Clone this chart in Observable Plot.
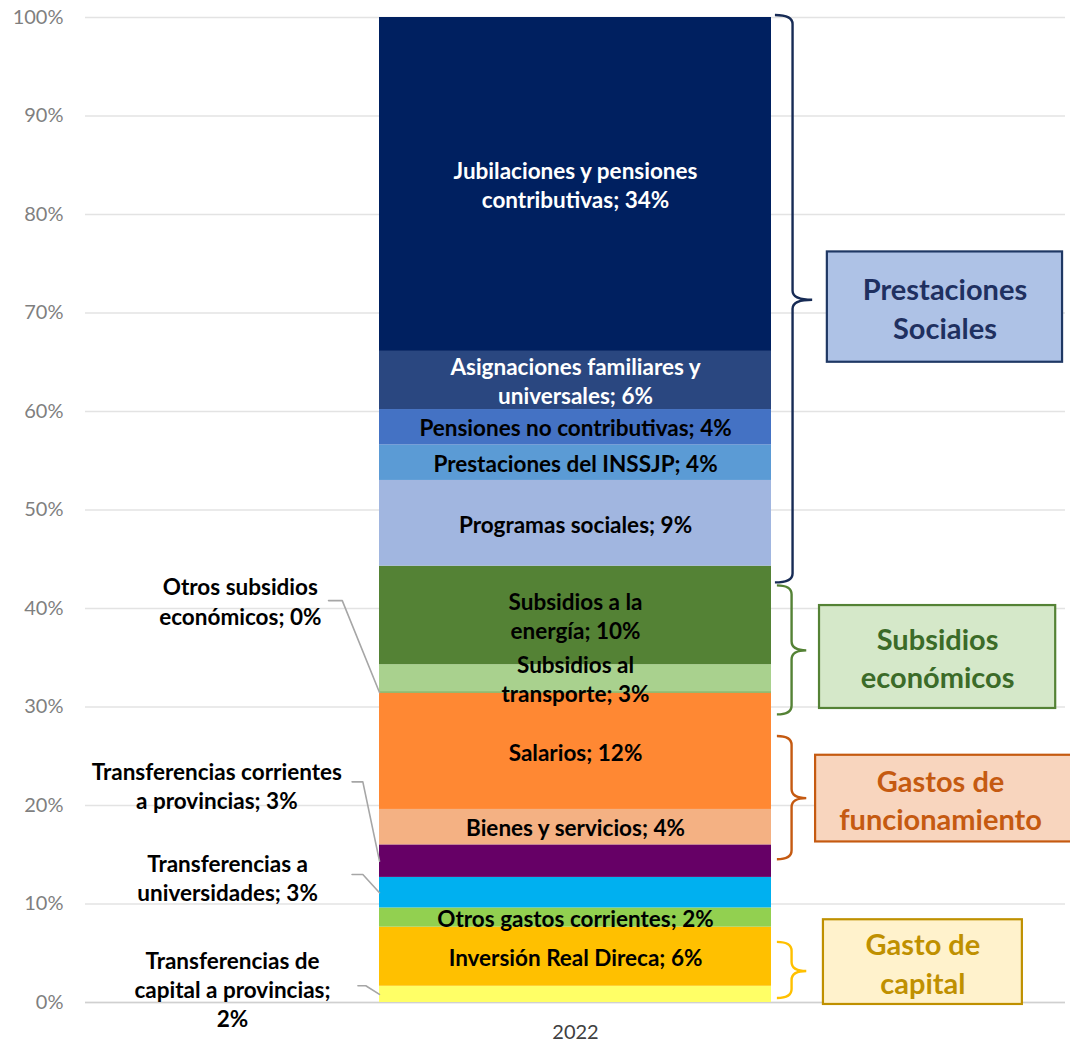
<!DOCTYPE html>
<html>
<head>
<meta charset="utf-8">
<script src="https://cdn.jsdelivr.net/npm/d3@7"></script>
<script src="https://cdn.jsdelivr.net/npm/@observablehq/plot@0.6"></script>
<style>
  html, body { margin: 0; padding: 0; background: #fff; overflow: hidden; }
  #chart svg { display: block; }
</style>
</head>
<body>
<div id="chart"></div>
<script>
// ---------- DATA (stack order: bottom to top) ----------
const year = "2022";
const categories = [
  "Transferencias de capital a provincias",
  "Inversión Real Direca",
  "Otros gastos corrientes",
  "Transferencias a universidades",
  "Transferencias corrientes a provincias",
  "Bienes y servicios",
  "Salarios",
  "Otros subsidios económicos",
  "Subsidios al transporte",
  "Subsidios a la energía",
  "Programas sociales",
  "Prestaciones del INSSJP",
  "Pensiones no contributivas",
  "Asignaciones familiares y universales",
  "Jubilaciones y pensiones contributivas"
];
const values = [1.65, 6.0, 1.95, 3.1, 3.3, 3.6, 11.8, 0.15, 2.75, 10.0, 8.7, 3.6, 3.6, 5.9, 33.9];
const valueLabels = ["2%", "6%", "2%", "3%", "3%", "4%", "12%", "0%", "3%", "10%", "9%", "4%", "4%", "6%", "34%"];
const labelTexts = [
  "Transferencias de\ncapital a provincias;\n2%",
  "Inversión Real Direca; 6%",
  "Otros gastos corrientes; 2%",
  "Transferencias a\nuniversidades; 3%",
  "Transferencias corrientes\na provincias; 3%",
  "Bienes y servicios; 4%",
  "Salarios; 12%",
  "Otros subsidios\neconómicos; 0%",
  "Subsidios al\ntransporte; 3%",
  "Subsidios a la\nenergía; 10%",
  "Programas sociales; 9%",
  "Prestaciones del INSSJP; 4%",
  "Pensiones no contributivas; 4%",
  "Asignaciones familiares y\nuniversales; 6%",
  "Jubilaciones y pensiones\ncontributivas; 34%"
];
const yTicks = [0, 10, 20, 30, 40, 50, 60, 70, 80, 90, 100];

// ---------- STYLES ----------
const segColors = ["#FFFF66", "#FFC000", "#92D050", "#00B0F0", "#660066", "#F4B183", "#FF8833",
  "#6FA84A", "#A9D18E", "#548235", "#A1B6E0", "#5B9BD5", "#4472C4", "#2A4780", "#002060"];
const segTextColors = ["#000", "#000", "#000", "#000", "#000", "#000", "#000", "#000", "#000", "#000",
  "#000", "#000", "#000", "#fff", "#fff"];
const outside = [true, false, false, true, true, false, false, true, false, false, false, false, false, false, false];

// ---------- LAYOUT (x in 0..1 across the plot frame, y in %) ----------
const barX1 = 0.3, barX2 = 0.7, barMid = 0.5;
const calloutCats = ["Otros subsidios económicos", "Transferencias corrientes a provincias",
  "Transferencias a universidades", "Transferencias de capital a provincias"];
const calloutLabelX = [0.158, 0.134, 0.145, 0.150];
const calloutLabelY = [40.8, 22.1, 12.7, 1.42];
const calloutLineX = [[0.248, 0.262], [0.272, 0.283], [0.272, 0.283], [0.278, 0.286]];
const calloutLineY = [40.8, 22.4, 13.0, 1.7];

const groupNames = ["Prestaciones\nSociales", "Subsidios\neconómicos", "Gastos de\nfuncionamiento", "Gasto de\ncapital"];
const braceTop = [100.2, 42.3, 27.0, 6.1];
const braceBottom = [42.6, 29.2, 14.5, 0.4];
const braceTip = [71.3, 35.7, 20.7, 3.15];
const braceX = [[0.704, 0.722, 0.742], [0.706, 0.721, 0.736], [0.706, 0.721, 0.736], [0.706, 0.721, 0.736]];
const braceColors = ["#172B55", "#548235", "#C55A11", "#FFC000"];
const boxX = [[0.757, 0.997], [0.749, 0.990], [0.745, 1.010], [0.753, 0.956]];
const boxY = [[65.0, 76.2], [29.85, 40.3], [16.3, 25.1], [-0.2, 8.4]];
const boxFill = ["#AEC2E6", "#D5E8C9", "#F8D5BE", "#FFF2CC"];
const boxStroke = ["#1F3864", "#548235", "#C55A11", "#BF9000"];
const boxText = ["#1F3060", "#3B6B28", "#C55A11", "#BF9000"];
const boxTextY = [70.6, 35.1, 20.7, 4.1];

// ---------- BUILD ----------
const rows = categories.map((c, i) => ({
  year, category: c, value: values[i],
  color: segColors[i], textColor: segTextColors[i],
  inLabel: outside[i] ? "" : labelTexts[i]
}));
const cum = d3.cumsum(values);
const midOf = c => { const i = categories.indexOf(c); return cum[i] - values[i] / 2; };

const leaders = [];
calloutCats.forEach((c, k) => {
  leaders.push({k, x: calloutLineX[k][0], y: calloutLineY[k]});
  leaders.push({k, x: calloutLineX[k][1], y: calloutLineY[k]});
  leaders.push({k, x: barX1, y: midOf(c)});
});
const callouts = calloutCats.map((c, k) => ({
  x: calloutLabelX[k], y: calloutLabelY[k], text: labelTexts[categories.indexOf(c)]
}));
const groups = groupNames.map((g, k) => ({
  name: g, x1: boxX[k][0], x2: boxX[k][1], y1: boxY[k][0], y2: boxY[k][1],
  fill: boxFill[k], stroke: boxStroke[k], textColor: boxText[k],
  tx: (boxX[k][0] + Math.min(boxX[k][1], 1.0)) / 2, ty: boxTextY[k]
}));

const FONT = "Lato, 'Open Sans', sans-serif";
const LABEL_SIZE = 22.5;

function braces(index, scales) {
  const xs = scales.x, ys = scales.y;
  const g = d3.create("svg:g");
  groupNames.forEach((_, k) => {
    const xl = xs(braceX[k][0]), xv = xs(braceX[k][1]), xt = xs(braceX[k][2]);
    const y0 = ys(braceTop[k]), y1 = ys(braceBottom[k]), ym = ys(braceTip[k]);
    const r = 9;
    const p = d3.path();
    p.moveTo(xl, y0);
    p.quadraticCurveTo(xv, y0, xv, y0 + r);
    p.lineTo(xv, ym - r);
    p.quadraticCurveTo(xv, ym, xt, ym);
    p.quadraticCurveTo(xv, ym, xv, ym + r);
    p.lineTo(xv, y1 - r);
    p.quadraticCurveTo(xv, y1, xl, y1);
    g.append("path").attr("d", p.toString())
      .attr("fill", "none").attr("stroke", braceColors[k]).attr("stroke-width", 2.4);
  });
  return g.node();
}

const plot = Plot.plot({
  width: 1070,
  height: 1044,
  marginLeft: 85,
  marginRight: 5,
  marginTop: 17,
  marginBottom: 42,
  style: {fontFamily: FONT, background: "#fff", overflow: "hidden"},
  x: {domain: [0, 1], axis: null},
  y: {domain: [0, 100], axis: null},
  color: {type: "identity"},
  marks: [
    Plot.gridY(yTicks, {stroke: "#e3e3e3", strokeOpacity: 1, strokeWidth: 1.3}),
    Plot.axisY(yTicks, {tickSize: 0, tickPadding: 22, tickFormat: d => d + "%",
      fontSize: 20, fill: "#7f7f7f", fontFamily: FONT}),
    Plot.ruleY([0], {stroke: "#d0d0d0", strokeWidth: 1.5}),
    Plot.axisX([barMid], {tickSize: 0, tickPadding: 22, tickFormat: () => year,
      fontSize: 20, fill: "#404040", fontFamily: FONT}),
    Plot.rectY(rows, Plot.stackY({x1: barX1, x2: barX2, y: "value", fill: "color", order: null})),
    Plot.text(rows, Plot.stackY({x: barMid, y: "value", text: "inLabel", fill: "textColor", order: null,
      fontSize: LABEL_SIZE, fontWeight: "bold", lineHeight: 1.28, fontFamily: FONT})),
    Plot.line(leaders, {x: "x", y: "y", z: "k", stroke: "#a6a6a6", strokeWidth: 1.6, curve: "linear"}),
    Plot.text(callouts, {x: "x", y: "y", text: "text", fill: "#000", fontSize: LABEL_SIZE, fontWeight: "bold",
      lineHeight: 1.3, fontFamily: FONT}),
    braces,
    Plot.rect(groups, {x1: "x1", x2: "x2", y1: "y1", y2: "y2", fill: "fill", stroke: "stroke", strokeWidth: 2.2}),
    Plot.text(groups, {x: "tx", y: "ty", text: "name", fill: "textColor", fontSize: 29, fontWeight: "bold",
      lineHeight: 1.33, fontFamily: FONT})
  ]
});
document.getElementById("chart").appendChild(plot);
</script>
</body>
</html>
